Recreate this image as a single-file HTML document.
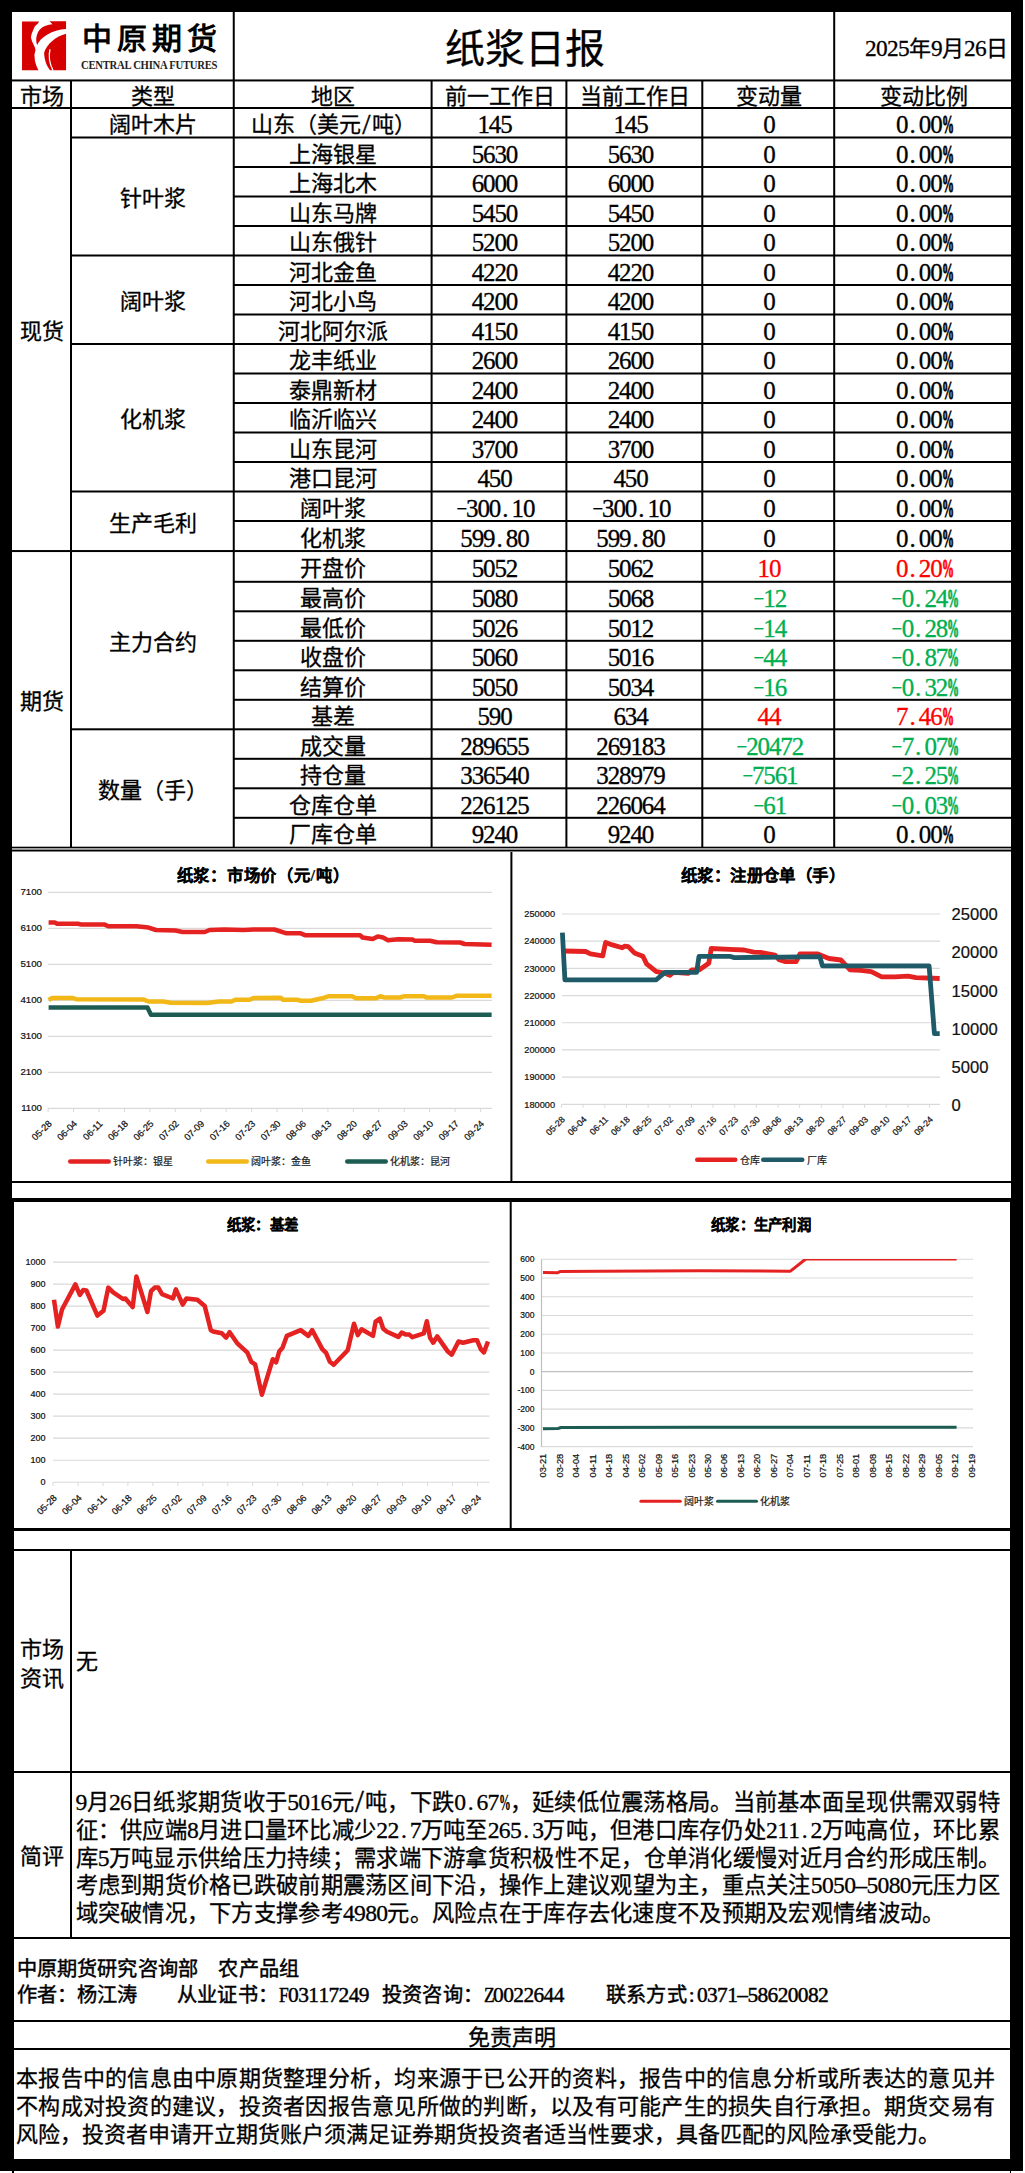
<!DOCTYPE html>
<html lang="zh-CN"><head><meta charset="utf-8"><title>纸浆日报</title>
<style>
*{margin:0;padding:0;box-sizing:border-box}
html,body{width:1025px;height:2173px;overflow:hidden;background:#fff}
body{position:relative;font-family:'Liberation Serif', serif}
body>div{position:absolute}
.t{white-space:nowrap;font-weight:500;-webkit-text-stroke:0.3px currentColor}
.num{position:absolute;height:30px;line-height:30px;font-size:25px;-webkit-text-stroke:0.3px currentColor;font-family:'Liberation Serif', serif;white-space:nowrap}
.num i{font-style:normal;display:inline-block;width:11.4px;text-align:center}
.num i.dt{text-align:left;padding-left:2px}
.num i.mn{transform:scaleX(0.75)}
.num i.pc{transform:scaleX(0.48);transform-origin:0 50%;font-weight:bold;text-align:left;-webkit-text-stroke:0.9px currentColor}
b.h{display:inline-block;width:0.5em;text-align:center;font-weight:inherit}
b.h.dt{text-align:left;padding-left:0.1em}
b.h.sl{transform:scale(1.35,1.3)}
b.h.lt{transform:scaleX(0.82)}
b.h.pc{transform:scaleX(0.5);transform-origin:0 50%;font-weight:bold;text-align:left}
.mx b.h{font-size:1.06em;width:0.4717em}
</style></head>
<body>
<div style="left:0px;top:0px;width:1023px;height:12px;background:#000"></div><div style="left:0px;top:0px;width:12px;height:2171px;background:#000"></div><div style="left:1011px;top:0px;width:12px;height:2171px;background:#000"></div><div style="left:0px;top:2159px;width:1023px;height:12px;background:#000"></div><svg style="position:absolute;left:15px;top:15px" width="60" height="63" viewBox="0 0 1025 1076">
<path fill="#d60000" d="M120,110 L410,110 L395,140 L340,190 L320,235 L285,320 L272,380 L290,450 L340,555 L350,600 L332,680 L340,780 L362,860 L400,945 L120,945 Z"/>
<path fill="#d60000" d="M590,105 L872,105 L872,240 C760,248 640,280 540,340 C460,390 410,440 378,512 C350,430 360,330 420,250 C480,190 560,170 640,160 Z"/>
<path fill="#d60000" d="M872,320 L872,945 L600,945 C540,870 498,760 498,640 C540,500 700,360 872,320 Z"/>
<path fill="none" stroke="#fff" stroke-width="22" d="M598,585 C575,680 585,820 650,950"/>
</svg><div class="t " style="left:82px;top:21px;width:145px;height:36px;line-height:36px;font-size:30px;color:#000;text-align:left;font-family:'Liberation Serif', serif;font-weight:bold;letter-spacing:5px;-webkit-text-stroke:0;">中原期货</div><div class="t " style="left:81px;top:57px;width:170px;height:16px;line-height:16px;font-size:12px;color:#000;text-align:left;font-family:'Liberation Serif', serif;font-weight:bold;transform:scaleX(0.89);transform-origin:0 0;letter-spacing:-0.3px;color:#222;-webkit-text-stroke:0;">CENTRAL CHINA FUTURES</div><div class="t " style="left:425px;top:24.5px;width:200px;height:50px;line-height:50px;font-size:40px;color:#000;text-align:center;font-family:'Liberation Serif', serif;font-weight:500;">纸浆日报</div><div class="t mx" style="left:822px;top:33.5px;width:186px;height:28px;line-height:28px;font-size:22px;color:#000;text-align:right;font-family:'Liberation Serif', serif;font-weight:500;"><b class="h">2</b><b class="h">0</b><b class="h">2</b><b class="h">5</b>年<b class="h">9</b>月<b class="h">2</b><b class="h">6</b>日</div><div class="t " style="left:12px;top:81.7px;width:59px;height:30px;line-height:30px;font-size:22px;color:#000;text-align:center;font-family:'Liberation Serif', serif;font-weight:500;">市场</div><div class="t " style="left:71px;top:81.7px;width:163px;height:30px;line-height:30px;font-size:22px;color:#000;text-align:center;font-family:'Liberation Serif', serif;font-weight:500;">类型</div><div class="t " style="left:234px;top:81.7px;width:198px;height:30px;line-height:30px;font-size:22px;color:#000;text-align:center;font-family:'Liberation Serif', serif;font-weight:500;">地区</div><div class="t " style="left:432px;top:81.7px;width:135px;height:30px;line-height:30px;font-size:22px;color:#000;text-align:center;font-family:'Liberation Serif', serif;font-weight:500;">前一工作日</div><div class="t " style="left:567px;top:81.7px;width:135px;height:30px;line-height:30px;font-size:22px;color:#000;text-align:center;font-family:'Liberation Serif', serif;font-weight:500;">当前工作日</div><div class="t " style="left:703px;top:81.7px;width:131px;height:30px;line-height:30px;font-size:22px;color:#000;text-align:center;font-family:'Liberation Serif', serif;font-weight:500;">变动量</div><div class="t " style="left:835px;top:81.7px;width:177px;height:30px;line-height:30px;font-size:22px;color:#000;text-align:center;font-family:'Liberation Serif', serif;font-weight:500;">变动比例</div><div class="t " style="left:234px;top:110.2px;width:198px;height:30px;line-height:30px;font-size:22px;color:#000;text-align:center;font-family:'Liberation Serif', serif;font-weight:500;">山东（美元<b class="h sl">/</b>吨）</div><div class="num" style="left:477.4px;top:110.2px;width:34.2px;color:#000"><i class="n">1</i><i class="n">4</i><i class="n">5</i></div><div class="num" style="left:613.4px;top:110.2px;width:34.2px;color:#000"><i class="n">1</i><i class="n">4</i><i class="n">5</i></div><div class="num" style="left:763.3px;top:110.2px;width:11.4px;color:#000"><i class="n">0</i></div><div class="num" style="left:896.0px;top:110.2px;width:57.0px;color:#000"><i class="n">0</i><i class="n dt">.</i><i class="n">0</i><i class="n">0</i><i class="n pc">%</i></div><div class="t " style="left:234px;top:139.8px;width:198px;height:30px;line-height:30px;font-size:22px;color:#000;text-align:center;font-family:'Liberation Serif', serif;font-weight:500;">上海银星</div><div class="num" style="left:471.7px;top:139.8px;width:45.6px;color:#000"><i class="n">5</i><i class="n">6</i><i class="n">3</i><i class="n">0</i></div><div class="num" style="left:607.7px;top:139.8px;width:45.6px;color:#000"><i class="n">5</i><i class="n">6</i><i class="n">3</i><i class="n">0</i></div><div class="num" style="left:763.3px;top:139.8px;width:11.4px;color:#000"><i class="n">0</i></div><div class="num" style="left:896.0px;top:139.8px;width:57.0px;color:#000"><i class="n">0</i><i class="n dt">.</i><i class="n">0</i><i class="n">0</i><i class="n pc">%</i></div><div class="t " style="left:234px;top:169.2px;width:198px;height:30px;line-height:30px;font-size:22px;color:#000;text-align:center;font-family:'Liberation Serif', serif;font-weight:500;">上海北木</div><div class="num" style="left:471.7px;top:169.2px;width:45.6px;color:#000"><i class="n">6</i><i class="n">0</i><i class="n">0</i><i class="n">0</i></div><div class="num" style="left:607.7px;top:169.2px;width:45.6px;color:#000"><i class="n">6</i><i class="n">0</i><i class="n">0</i><i class="n">0</i></div><div class="num" style="left:763.3px;top:169.2px;width:11.4px;color:#000"><i class="n">0</i></div><div class="num" style="left:896.0px;top:169.2px;width:57.0px;color:#000"><i class="n">0</i><i class="n dt">.</i><i class="n">0</i><i class="n">0</i><i class="n pc">%</i></div><div class="t " style="left:234px;top:198.8px;width:198px;height:30px;line-height:30px;font-size:22px;color:#000;text-align:center;font-family:'Liberation Serif', serif;font-weight:500;">山东马牌</div><div class="num" style="left:471.7px;top:198.8px;width:45.6px;color:#000"><i class="n">5</i><i class="n">4</i><i class="n">5</i><i class="n">0</i></div><div class="num" style="left:607.7px;top:198.8px;width:45.6px;color:#000"><i class="n">5</i><i class="n">4</i><i class="n">5</i><i class="n">0</i></div><div class="num" style="left:763.3px;top:198.8px;width:11.4px;color:#000"><i class="n">0</i></div><div class="num" style="left:896.0px;top:198.8px;width:57.0px;color:#000"><i class="n">0</i><i class="n dt">.</i><i class="n">0</i><i class="n">0</i><i class="n pc">%</i></div><div class="t " style="left:234px;top:228.2px;width:198px;height:30px;line-height:30px;font-size:22px;color:#000;text-align:center;font-family:'Liberation Serif', serif;font-weight:500;">山东俄针</div><div class="num" style="left:471.7px;top:228.2px;width:45.6px;color:#000"><i class="n">5</i><i class="n">2</i><i class="n">0</i><i class="n">0</i></div><div class="num" style="left:607.7px;top:228.2px;width:45.6px;color:#000"><i class="n">5</i><i class="n">2</i><i class="n">0</i><i class="n">0</i></div><div class="num" style="left:763.3px;top:228.2px;width:11.4px;color:#000"><i class="n">0</i></div><div class="num" style="left:896.0px;top:228.2px;width:57.0px;color:#000"><i class="n">0</i><i class="n dt">.</i><i class="n">0</i><i class="n">0</i><i class="n pc">%</i></div><div class="t " style="left:234px;top:257.8px;width:198px;height:30px;line-height:30px;font-size:22px;color:#000;text-align:center;font-family:'Liberation Serif', serif;font-weight:500;">河北金鱼</div><div class="num" style="left:471.7px;top:257.8px;width:45.6px;color:#000"><i class="n">4</i><i class="n">2</i><i class="n">2</i><i class="n">0</i></div><div class="num" style="left:607.7px;top:257.8px;width:45.6px;color:#000"><i class="n">4</i><i class="n">2</i><i class="n">2</i><i class="n">0</i></div><div class="num" style="left:763.3px;top:257.8px;width:11.4px;color:#000"><i class="n">0</i></div><div class="num" style="left:896.0px;top:257.8px;width:57.0px;color:#000"><i class="n">0</i><i class="n dt">.</i><i class="n">0</i><i class="n">0</i><i class="n pc">%</i></div><div class="t " style="left:234px;top:287.2px;width:198px;height:30px;line-height:30px;font-size:22px;color:#000;text-align:center;font-family:'Liberation Serif', serif;font-weight:500;">河北小鸟</div><div class="num" style="left:471.7px;top:287.2px;width:45.6px;color:#000"><i class="n">4</i><i class="n">2</i><i class="n">0</i><i class="n">0</i></div><div class="num" style="left:607.7px;top:287.2px;width:45.6px;color:#000"><i class="n">4</i><i class="n">2</i><i class="n">0</i><i class="n">0</i></div><div class="num" style="left:763.3px;top:287.2px;width:11.4px;color:#000"><i class="n">0</i></div><div class="num" style="left:896.0px;top:287.2px;width:57.0px;color:#000"><i class="n">0</i><i class="n dt">.</i><i class="n">0</i><i class="n">0</i><i class="n pc">%</i></div><div class="t " style="left:234px;top:316.8px;width:198px;height:30px;line-height:30px;font-size:22px;color:#000;text-align:center;font-family:'Liberation Serif', serif;font-weight:500;">河北阿尔派</div><div class="num" style="left:471.7px;top:316.8px;width:45.6px;color:#000"><i class="n">4</i><i class="n">1</i><i class="n">5</i><i class="n">0</i></div><div class="num" style="left:607.7px;top:316.8px;width:45.6px;color:#000"><i class="n">4</i><i class="n">1</i><i class="n">5</i><i class="n">0</i></div><div class="num" style="left:763.3px;top:316.8px;width:11.4px;color:#000"><i class="n">0</i></div><div class="num" style="left:896.0px;top:316.8px;width:57.0px;color:#000"><i class="n">0</i><i class="n dt">.</i><i class="n">0</i><i class="n">0</i><i class="n pc">%</i></div><div class="t " style="left:234px;top:346.2px;width:198px;height:30px;line-height:30px;font-size:22px;color:#000;text-align:center;font-family:'Liberation Serif', serif;font-weight:500;">龙丰纸业</div><div class="num" style="left:471.7px;top:346.2px;width:45.6px;color:#000"><i class="n">2</i><i class="n">6</i><i class="n">0</i><i class="n">0</i></div><div class="num" style="left:607.7px;top:346.2px;width:45.6px;color:#000"><i class="n">2</i><i class="n">6</i><i class="n">0</i><i class="n">0</i></div><div class="num" style="left:763.3px;top:346.2px;width:11.4px;color:#000"><i class="n">0</i></div><div class="num" style="left:896.0px;top:346.2px;width:57.0px;color:#000"><i class="n">0</i><i class="n dt">.</i><i class="n">0</i><i class="n">0</i><i class="n pc">%</i></div><div class="t " style="left:234px;top:375.8px;width:198px;height:30px;line-height:30px;font-size:22px;color:#000;text-align:center;font-family:'Liberation Serif', serif;font-weight:500;">泰鼎新材</div><div class="num" style="left:471.7px;top:375.8px;width:45.6px;color:#000"><i class="n">2</i><i class="n">4</i><i class="n">0</i><i class="n">0</i></div><div class="num" style="left:607.7px;top:375.8px;width:45.6px;color:#000"><i class="n">2</i><i class="n">4</i><i class="n">0</i><i class="n">0</i></div><div class="num" style="left:763.3px;top:375.8px;width:11.4px;color:#000"><i class="n">0</i></div><div class="num" style="left:896.0px;top:375.8px;width:57.0px;color:#000"><i class="n">0</i><i class="n dt">.</i><i class="n">0</i><i class="n">0</i><i class="n pc">%</i></div><div class="t " style="left:234px;top:405.2px;width:198px;height:30px;line-height:30px;font-size:22px;color:#000;text-align:center;font-family:'Liberation Serif', serif;font-weight:500;">临沂临兴</div><div class="num" style="left:471.7px;top:405.2px;width:45.6px;color:#000"><i class="n">2</i><i class="n">4</i><i class="n">0</i><i class="n">0</i></div><div class="num" style="left:607.7px;top:405.2px;width:45.6px;color:#000"><i class="n">2</i><i class="n">4</i><i class="n">0</i><i class="n">0</i></div><div class="num" style="left:763.3px;top:405.2px;width:11.4px;color:#000"><i class="n">0</i></div><div class="num" style="left:896.0px;top:405.2px;width:57.0px;color:#000"><i class="n">0</i><i class="n dt">.</i><i class="n">0</i><i class="n">0</i><i class="n pc">%</i></div><div class="t " style="left:234px;top:434.8px;width:198px;height:30px;line-height:30px;font-size:22px;color:#000;text-align:center;font-family:'Liberation Serif', serif;font-weight:500;">山东昆河</div><div class="num" style="left:471.7px;top:434.8px;width:45.6px;color:#000"><i class="n">3</i><i class="n">7</i><i class="n">0</i><i class="n">0</i></div><div class="num" style="left:607.7px;top:434.8px;width:45.6px;color:#000"><i class="n">3</i><i class="n">7</i><i class="n">0</i><i class="n">0</i></div><div class="num" style="left:763.3px;top:434.8px;width:11.4px;color:#000"><i class="n">0</i></div><div class="num" style="left:896.0px;top:434.8px;width:57.0px;color:#000"><i class="n">0</i><i class="n dt">.</i><i class="n">0</i><i class="n">0</i><i class="n pc">%</i></div><div class="t " style="left:234px;top:464.2px;width:198px;height:30px;line-height:30px;font-size:22px;color:#000;text-align:center;font-family:'Liberation Serif', serif;font-weight:500;">港口昆河</div><div class="num" style="left:477.4px;top:464.2px;width:34.2px;color:#000"><i class="n">4</i><i class="n">5</i><i class="n">0</i></div><div class="num" style="left:613.4px;top:464.2px;width:34.2px;color:#000"><i class="n">4</i><i class="n">5</i><i class="n">0</i></div><div class="num" style="left:763.3px;top:464.2px;width:11.4px;color:#000"><i class="n">0</i></div><div class="num" style="left:896.0px;top:464.2px;width:57.0px;color:#000"><i class="n">0</i><i class="n dt">.</i><i class="n">0</i><i class="n">0</i><i class="n pc">%</i></div><div class="t " style="left:234px;top:493.8px;width:198px;height:30px;line-height:30px;font-size:22px;color:#000;text-align:center;font-family:'Liberation Serif', serif;font-weight:500;">阔叶浆</div><div class="num" style="left:454.6px;top:493.8px;width:79.8px;color:#000"><i class="n mn">&#8722;</i><i class="n">3</i><i class="n">0</i><i class="n">0</i><i class="n dt">.</i><i class="n">1</i><i class="n">0</i></div><div class="num" style="left:590.6px;top:493.8px;width:79.8px;color:#000"><i class="n mn">&#8722;</i><i class="n">3</i><i class="n">0</i><i class="n">0</i><i class="n dt">.</i><i class="n">1</i><i class="n">0</i></div><div class="num" style="left:763.3px;top:493.8px;width:11.4px;color:#000"><i class="n">0</i></div><div class="num" style="left:896.0px;top:493.8px;width:57.0px;color:#000"><i class="n">0</i><i class="n dt">.</i><i class="n">0</i><i class="n">0</i><i class="n pc">%</i></div><div class="t " style="left:234px;top:523.5px;width:198px;height:30px;line-height:30px;font-size:22px;color:#000;text-align:center;font-family:'Liberation Serif', serif;font-weight:500;">化机浆</div><div class="num" style="left:460.3px;top:523.5px;width:68.4px;color:#000"><i class="n">5</i><i class="n">9</i><i class="n">9</i><i class="n dt">.</i><i class="n">8</i><i class="n">0</i></div><div class="num" style="left:596.3px;top:523.5px;width:68.4px;color:#000"><i class="n">5</i><i class="n">9</i><i class="n">9</i><i class="n dt">.</i><i class="n">8</i><i class="n">0</i></div><div class="num" style="left:763.3px;top:523.5px;width:11.4px;color:#000"><i class="n">0</i></div><div class="num" style="left:896.0px;top:523.5px;width:57.0px;color:#000"><i class="n">0</i><i class="n dt">.</i><i class="n">0</i><i class="n">0</i><i class="n pc">%</i></div><div class="t " style="left:234px;top:553.9px;width:198px;height:30px;line-height:30px;font-size:22px;color:#000;text-align:center;font-family:'Liberation Serif', serif;font-weight:500;">开盘价</div><div class="num" style="left:471.7px;top:553.9px;width:45.6px;color:#000"><i class="n">5</i><i class="n">0</i><i class="n">5</i><i class="n">2</i></div><div class="num" style="left:607.7px;top:553.9px;width:45.6px;color:#000"><i class="n">5</i><i class="n">0</i><i class="n">6</i><i class="n">2</i></div><div class="num" style="left:757.6px;top:553.9px;width:22.8px;color:#ff0000"><i class="n">1</i><i class="n">0</i></div><div class="num" style="left:896.0px;top:553.9px;width:57.0px;color:#ff0000"><i class="n">0</i><i class="n dt">.</i><i class="n">2</i><i class="n">0</i><i class="n pc">%</i></div><div class="t " style="left:234px;top:584.0px;width:198px;height:30px;line-height:30px;font-size:22px;color:#000;text-align:center;font-family:'Liberation Serif', serif;font-weight:500;">最高价</div><div class="num" style="left:471.7px;top:584.0px;width:45.6px;color:#000"><i class="n">5</i><i class="n">0</i><i class="n">8</i><i class="n">0</i></div><div class="num" style="left:607.7px;top:584.0px;width:45.6px;color:#000"><i class="n">5</i><i class="n">0</i><i class="n">6</i><i class="n">8</i></div><div class="num" style="left:751.9px;top:584.0px;width:34.2px;color:#00b050"><i class="n mn">&#8722;</i><i class="n">1</i><i class="n">2</i></div><div class="num" style="left:890.3px;top:584.0px;width:68.4px;color:#00b050"><i class="n mn">&#8722;</i><i class="n">0</i><i class="n dt">.</i><i class="n">2</i><i class="n">4</i><i class="n pc">%</i></div><div class="t " style="left:234px;top:613.5px;width:198px;height:30px;line-height:30px;font-size:22px;color:#000;text-align:center;font-family:'Liberation Serif', serif;font-weight:500;">最低价</div><div class="num" style="left:471.7px;top:613.5px;width:45.6px;color:#000"><i class="n">5</i><i class="n">0</i><i class="n">2</i><i class="n">6</i></div><div class="num" style="left:607.7px;top:613.5px;width:45.6px;color:#000"><i class="n">5</i><i class="n">0</i><i class="n">1</i><i class="n">2</i></div><div class="num" style="left:751.9px;top:613.5px;width:34.2px;color:#00b050"><i class="n mn">&#8722;</i><i class="n">1</i><i class="n">4</i></div><div class="num" style="left:890.3px;top:613.5px;width:68.4px;color:#00b050"><i class="n mn">&#8722;</i><i class="n">0</i><i class="n dt">.</i><i class="n">2</i><i class="n">8</i><i class="n pc">%</i></div><div class="t " style="left:234px;top:643.0px;width:198px;height:30px;line-height:30px;font-size:22px;color:#000;text-align:center;font-family:'Liberation Serif', serif;font-weight:500;">收盘价</div><div class="num" style="left:471.7px;top:643.0px;width:45.6px;color:#000"><i class="n">5</i><i class="n">0</i><i class="n">6</i><i class="n">0</i></div><div class="num" style="left:607.7px;top:643.0px;width:45.6px;color:#000"><i class="n">5</i><i class="n">0</i><i class="n">1</i><i class="n">6</i></div><div class="num" style="left:751.9px;top:643.0px;width:34.2px;color:#00b050"><i class="n mn">&#8722;</i><i class="n">4</i><i class="n">4</i></div><div class="num" style="left:890.3px;top:643.0px;width:68.4px;color:#00b050"><i class="n mn">&#8722;</i><i class="n">0</i><i class="n dt">.</i><i class="n">8</i><i class="n">7</i><i class="n pc">%</i></div><div class="t " style="left:234px;top:672.5px;width:198px;height:30px;line-height:30px;font-size:22px;color:#000;text-align:center;font-family:'Liberation Serif', serif;font-weight:500;">结算价</div><div class="num" style="left:471.7px;top:672.5px;width:45.6px;color:#000"><i class="n">5</i><i class="n">0</i><i class="n">5</i><i class="n">0</i></div><div class="num" style="left:607.7px;top:672.5px;width:45.6px;color:#000"><i class="n">5</i><i class="n">0</i><i class="n">3</i><i class="n">4</i></div><div class="num" style="left:751.9px;top:672.5px;width:34.2px;color:#00b050"><i class="n mn">&#8722;</i><i class="n">1</i><i class="n">6</i></div><div class="num" style="left:890.3px;top:672.5px;width:68.4px;color:#00b050"><i class="n mn">&#8722;</i><i class="n">0</i><i class="n dt">.</i><i class="n">3</i><i class="n">2</i><i class="n pc">%</i></div><div class="t " style="left:234px;top:702.0px;width:198px;height:30px;line-height:30px;font-size:22px;color:#000;text-align:center;font-family:'Liberation Serif', serif;font-weight:500;">基差</div><div class="num" style="left:477.4px;top:702.0px;width:34.2px;color:#000"><i class="n">5</i><i class="n">9</i><i class="n">0</i></div><div class="num" style="left:613.4px;top:702.0px;width:34.2px;color:#000"><i class="n">6</i><i class="n">3</i><i class="n">4</i></div><div class="num" style="left:757.6px;top:702.0px;width:22.8px;color:#ff0000"><i class="n">4</i><i class="n">4</i></div><div class="num" style="left:896.0px;top:702.0px;width:57.0px;color:#ff0000"><i class="n">7</i><i class="n dt">.</i><i class="n">4</i><i class="n">6</i><i class="n pc">%</i></div><div class="t " style="left:234px;top:731.5px;width:198px;height:30px;line-height:30px;font-size:22px;color:#000;text-align:center;font-family:'Liberation Serif', serif;font-weight:500;">成交量</div><div class="num" style="left:460.3px;top:731.5px;width:68.4px;color:#000"><i class="n">2</i><i class="n">8</i><i class="n">9</i><i class="n">6</i><i class="n">5</i><i class="n">5</i></div><div class="num" style="left:596.3px;top:731.5px;width:68.4px;color:#000"><i class="n">2</i><i class="n">6</i><i class="n">9</i><i class="n">1</i><i class="n">8</i><i class="n">3</i></div><div class="num" style="left:734.8px;top:731.5px;width:68.4px;color:#00b050"><i class="n mn">&#8722;</i><i class="n">2</i><i class="n">0</i><i class="n">4</i><i class="n">7</i><i class="n">2</i></div><div class="num" style="left:890.3px;top:731.5px;width:68.4px;color:#00b050"><i class="n mn">&#8722;</i><i class="n">7</i><i class="n dt">.</i><i class="n">0</i><i class="n">7</i><i class="n pc">%</i></div><div class="t " style="left:234px;top:761.0px;width:198px;height:30px;line-height:30px;font-size:22px;color:#000;text-align:center;font-family:'Liberation Serif', serif;font-weight:500;">持仓量</div><div class="num" style="left:460.3px;top:761.0px;width:68.4px;color:#000"><i class="n">3</i><i class="n">3</i><i class="n">6</i><i class="n">5</i><i class="n">4</i><i class="n">0</i></div><div class="num" style="left:596.3px;top:761.0px;width:68.4px;color:#000"><i class="n">3</i><i class="n">2</i><i class="n">8</i><i class="n">9</i><i class="n">7</i><i class="n">9</i></div><div class="num" style="left:740.5px;top:761.0px;width:57.0px;color:#00b050"><i class="n mn">&#8722;</i><i class="n">7</i><i class="n">5</i><i class="n">6</i><i class="n">1</i></div><div class="num" style="left:890.3px;top:761.0px;width:68.4px;color:#00b050"><i class="n mn">&#8722;</i><i class="n">2</i><i class="n dt">.</i><i class="n">2</i><i class="n">5</i><i class="n pc">%</i></div><div class="t " style="left:234px;top:790.5px;width:198px;height:30px;line-height:30px;font-size:22px;color:#000;text-align:center;font-family:'Liberation Serif', serif;font-weight:500;">仓库仓单</div><div class="num" style="left:460.3px;top:790.5px;width:68.4px;color:#000"><i class="n">2</i><i class="n">2</i><i class="n">6</i><i class="n">1</i><i class="n">2</i><i class="n">5</i></div><div class="num" style="left:596.3px;top:790.5px;width:68.4px;color:#000"><i class="n">2</i><i class="n">2</i><i class="n">6</i><i class="n">0</i><i class="n">6</i><i class="n">4</i></div><div class="num" style="left:751.9px;top:790.5px;width:34.2px;color:#00b050"><i class="n mn">&#8722;</i><i class="n">6</i><i class="n">1</i></div><div class="num" style="left:890.3px;top:790.5px;width:68.4px;color:#00b050"><i class="n mn">&#8722;</i><i class="n">0</i><i class="n dt">.</i><i class="n">0</i><i class="n">3</i><i class="n pc">%</i></div><div class="t " style="left:234px;top:820.4px;width:198px;height:30px;line-height:30px;font-size:22px;color:#000;text-align:center;font-family:'Liberation Serif', serif;font-weight:500;">厂库仓单</div><div class="num" style="left:471.7px;top:820.4px;width:45.6px;color:#000"><i class="n">9</i><i class="n">2</i><i class="n">4</i><i class="n">0</i></div><div class="num" style="left:607.7px;top:820.4px;width:45.6px;color:#000"><i class="n">9</i><i class="n">2</i><i class="n">4</i><i class="n">0</i></div><div class="num" style="left:763.3px;top:820.4px;width:11.4px;color:#000"><i class="n">0</i></div><div class="num" style="left:896.0px;top:820.4px;width:57.0px;color:#000"><i class="n">0</i><i class="n dt">.</i><i class="n">0</i><i class="n">0</i><i class="n pc">%</i></div><div class="t " style="left:71px;top:110.2px;width:163px;height:30px;line-height:30px;font-size:22px;color:#000;text-align:center;font-family:'Liberation Serif', serif;font-weight:500;">阔叶木片</div><div class="t " style="left:71px;top:184.0px;width:163px;height:30px;line-height:30px;font-size:22px;color:#000;text-align:center;font-family:'Liberation Serif', serif;font-weight:500;">针叶浆</div><div class="t " style="left:71px;top:287.2px;width:163px;height:30px;line-height:30px;font-size:22px;color:#000;text-align:center;font-family:'Liberation Serif', serif;font-weight:500;">阔叶浆</div><div class="t " style="left:71px;top:405.2px;width:163px;height:30px;line-height:30px;font-size:22px;color:#000;text-align:center;font-family:'Liberation Serif', serif;font-weight:500;">化机浆</div><div class="t " style="left:71px;top:508.8px;width:163px;height:30px;line-height:30px;font-size:22px;color:#000;text-align:center;font-family:'Liberation Serif', serif;font-weight:500;">生产毛利</div><div class="t " style="left:71px;top:627.7px;width:163px;height:30px;line-height:30px;font-size:22px;color:#000;text-align:center;font-family:'Liberation Serif', serif;font-weight:500;">主力合约</div><div class="t " style="left:71px;top:776.1px;width:163px;height:30px;line-height:30px;font-size:22px;color:#000;text-align:center;font-family:'Liberation Serif', serif;font-weight:500;">数量（手）</div><div class="t " style="left:12px;top:317.0px;width:59px;height:30px;line-height:30px;font-size:22px;color:#000;text-align:center;font-family:'Liberation Serif', serif;font-weight:500;">现货</div><div class="t " style="left:12px;top:687.0px;width:59px;height:30px;line-height:30px;font-size:22px;color:#000;text-align:center;font-family:'Liberation Serif', serif;font-weight:500;">期货</div><div style="left:12px;top:1181px;width:999px;height:2px;background:#000"></div><div style="left:12px;top:1198px;width:999px;height:4px;background:#000"></div><div style="left:12px;top:1202px;width:2px;height:1326px;background:#000"></div><div style="left:1010px;top:1202px;width:1px;height:1326px;background:#000"></div><div style="left:12px;top:1528px;width:999px;height:3px;background:#000"></div><div style="left:12px;top:1549px;width:999px;height:2px;background:#000"></div><div style="left:70px;top:1551px;width:2px;height:386px;background:#000"></div><div style="left:12px;top:1771px;width:999px;height:2px;background:#000"></div><div style="left:12px;top:1937px;width:999px;height:2px;background:#000"></div><div style="left:12px;top:2020px;width:999px;height:2px;background:#000"></div><div style="left:12px;top:2048px;width:999px;height:2px;background:#000"></div><div class="t " style="left:14px;top:1634.5px;width:56px;height:60px;line-height:60px;font-size:22px;color:#000;text-align:center;font-family:'Liberation Serif', serif;font-weight:500;line-height:29.3px;">市场<br>资讯</div><div class="t " style="left:76px;top:1648px;width:40px;height:28px;line-height:28px;font-size:22px;color:#000;text-align:left;font-family:'Liberation Serif', serif;font-weight:500;">无</div><div class="t " style="left:14px;top:1842px;width:56px;height:30px;line-height:30px;font-size:22px;color:#000;text-align:center;font-family:'Liberation Serif', serif;font-weight:500;">简评</div><div class="t mx" style="left:75.5px;top:1787.2px;width:940px;height:30px;line-height:30px;font-size:22.28px;color:#000;text-align:left;font-family:'Liberation Serif', serif;font-weight:500;letter-spacing:0.28px;"><b class="h">9</b>月<b class="h">2</b><b class="h">6</b>日纸浆期货收于<b class="h">5</b><b class="h">0</b><b class="h">1</b><b class="h">6</b>元<b class="h sl">/</b>吨，下跌<b class="h">0</b><b class="h dt">.</b><b class="h">6</b><b class="h">7</b><b class="h pc">%</b>，延续低位震荡格局。当前基本面呈现供需双弱特</div><div class="t mx" style="left:75.5px;top:1814.9px;width:940px;height:30px;line-height:30px;font-size:22.28px;color:#000;text-align:left;font-family:'Liberation Serif', serif;font-weight:500;letter-spacing:0.28px;">征：供应端<b class="h">8</b>月进口量环比减少<b class="h">2</b><b class="h">2</b><b class="h dt">.</b><b class="h">7</b>万吨至<b class="h">2</b><b class="h">6</b><b class="h">5</b><b class="h dt">.</b><b class="h">3</b>万吨，但港口库存仍处<b class="h">2</b><b class="h">1</b><b class="h">1</b><b class="h dt">.</b><b class="h">2</b>万吨高位，环比累</div><div class="t mx" style="left:75.5px;top:1842.6px;width:940px;height:30px;line-height:30px;font-size:22.28px;color:#000;text-align:left;font-family:'Liberation Serif', serif;font-weight:500;letter-spacing:0.28px;">库<b class="h">5</b>万吨显示供给压力持续；需求端下游拿货积极性不足，仓单消化缓慢对近月合约形成压制。</div><div class="t mx" style="left:75.5px;top:1870.3px;width:940px;height:30px;line-height:30px;font-size:22.28px;color:#000;text-align:left;font-family:'Liberation Serif', serif;font-weight:500;letter-spacing:0.28px;">考虑到期货价格已跌破前期震荡区间下沿，操作上建议观望为主，重点关注<b class="h">5</b><b class="h">0</b><b class="h">5</b><b class="h">0</b><b class="h">&#8211;</b><b class="h">5</b><b class="h">0</b><b class="h">8</b><b class="h">0</b>元压力区</div><div class="t mx" style="left:75.5px;top:1898.0px;width:940px;height:30px;line-height:30px;font-size:22.28px;color:#000;text-align:left;font-family:'Liberation Serif', serif;font-weight:500;letter-spacing:0.28px;">域突破情况，下方支撑参考<b class="h">4</b><b class="h">9</b><b class="h">8</b><b class="h">0</b>元。风险点在于库存去化速度不及预期及宏观情绪波动。</div><div class="t " style="left:16.5px;top:1955px;width:400px;height:28px;line-height:28px;font-size:20.2px;color:#000;text-align:left;font-family:'Liberation Serif', serif;font-weight:500;letter-spacing:0.2px;-webkit-text-stroke:0.45px #000;">中原期货研究咨询部　农产品组</div><div class="t " style="left:16.5px;top:1981px;width:150px;height:28px;line-height:28px;font-size:20.2px;color:#000;text-align:left;font-family:'Liberation Serif', serif;font-weight:500;letter-spacing:0.2px;-webkit-text-stroke:0.45px #000;">作者：杨江涛</div><div class="t mx" style="left:177px;top:1981px;width:220px;height:28px;line-height:28px;font-size:20.2px;color:#000;text-align:left;font-family:'Liberation Serif', serif;font-weight:500;letter-spacing:0.2px;-webkit-text-stroke:0.45px #000;">从业证书：<b class="h lt">F</b><b class="h">0</b><b class="h">3</b><b class="h">1</b><b class="h">1</b><b class="h">7</b><b class="h">2</b><b class="h">4</b><b class="h">9</b></div><div class="t mx" style="left:382px;top:1981px;width:220px;height:28px;line-height:28px;font-size:20.2px;color:#000;text-align:left;font-family:'Liberation Serif', serif;font-weight:500;letter-spacing:0.2px;-webkit-text-stroke:0.45px #000;">投资咨询：<b class="h lt">Z</b><b class="h">0</b><b class="h">0</b><b class="h">2</b><b class="h">2</b><b class="h">6</b><b class="h">4</b><b class="h">4</b></div><div class="t mx" style="left:606px;top:1981px;width:260px;height:28px;line-height:28px;font-size:20.2px;color:#000;text-align:left;font-family:'Liberation Serif', serif;font-weight:500;letter-spacing:0.2px;-webkit-text-stroke:0.45px #000;">联系方式<b class="h">:</b><b class="h">0</b><b class="h">3</b><b class="h">7</b><b class="h">1</b><b class="h">&#8211;</b><b class="h">5</b><b class="h">8</b><b class="h">6</b><b class="h">2</b><b class="h">0</b><b class="h">0</b><b class="h">8</b><b class="h">2</b></div><div class="t " style="left:412px;top:2024.5px;width:200px;height:26px;line-height:26px;font-size:22px;color:#000;text-align:center;font-family:'Liberation Serif', serif;font-weight:500;">免责声明</div><div class="t " style="left:16px;top:2063.6px;width:979px;height:30px;line-height:30px;font-size:22px;color:#000;text-align:left;font-family:'Liberation Serif', serif;font-weight:500;text-align-last:justify;">本报告中的信息由中原期货整理分析，均来源于已公开的资料，报告中的信息分析或所表达的意见并</div><div class="t " style="left:16px;top:2091.6px;width:979px;height:30px;line-height:30px;font-size:22px;color:#000;text-align:left;font-family:'Liberation Serif', serif;font-weight:500;text-align-last:justify;">不构成对投资的建议，投资者因报告意见所做的判断，以及有可能产生的损失自行承担。期货交易有</div><div class="t " style="left:16px;top:2119.6px;width:960px;height:30px;line-height:30px;font-size:22px;color:#000;text-align:left;font-family:'Liberation Serif', serif;font-weight:500;">风险，投资者申请开立期货账户须满足证券期货投资者适当性要求，具备匹配的风险承受能力。</div>
<svg style="position:absolute;left:0;top:0" width="1025" height="2173" ><rect x="12.00" y="79.45" width="999.00" height="2.00" fill="#000"/><rect x="12.00" y="107.00" width="999.00" height="2.00" fill="#000"/><rect x="233.75" y="136.50" width="777.25" height="2.00" fill="#000"/><rect x="233.75" y="166.00" width="777.25" height="2.00" fill="#000"/><rect x="233.75" y="195.50" width="777.25" height="2.00" fill="#000"/><rect x="233.75" y="225.00" width="777.25" height="2.00" fill="#000"/><rect x="233.75" y="254.50" width="777.25" height="2.00" fill="#000"/><rect x="233.75" y="284.00" width="777.25" height="2.00" fill="#000"/><rect x="233.75" y="313.50" width="777.25" height="2.00" fill="#000"/><rect x="233.75" y="343.00" width="777.25" height="2.00" fill="#000"/><rect x="233.75" y="372.50" width="777.25" height="2.00" fill="#000"/><rect x="233.75" y="402.00" width="777.25" height="2.00" fill="#000"/><rect x="233.75" y="431.50" width="777.25" height="2.00" fill="#000"/><rect x="233.75" y="461.00" width="777.25" height="2.00" fill="#000"/><rect x="233.75" y="490.50" width="777.25" height="2.00" fill="#000"/><rect x="233.75" y="520.00" width="777.25" height="2.00" fill="#000"/><rect x="233.75" y="550.05" width="777.25" height="2.00" fill="#000"/><rect x="233.75" y="580.80" width="777.25" height="2.00" fill="#000"/><rect x="233.75" y="610.30" width="777.25" height="2.00" fill="#000"/><rect x="233.75" y="639.80" width="777.25" height="2.00" fill="#000"/><rect x="233.75" y="669.30" width="777.25" height="2.00" fill="#000"/><rect x="233.75" y="698.80" width="777.25" height="2.00" fill="#000"/><rect x="233.75" y="728.30" width="777.25" height="2.00" fill="#000"/><rect x="233.75" y="757.80" width="777.25" height="2.00" fill="#000"/><rect x="233.75" y="787.30" width="777.25" height="2.00" fill="#000"/><rect x="233.75" y="816.80" width="777.25" height="2.00" fill="#000"/><rect x="71.00" y="136.50" width="162.75" height="2.00" fill="#000"/><rect x="71.00" y="254.50" width="162.75" height="2.00" fill="#000"/><rect x="71.00" y="343.00" width="162.75" height="2.00" fill="#000"/><rect x="71.00" y="490.50" width="162.75" height="2.00" fill="#000"/><rect x="71.00" y="550.05" width="162.75" height="2.00" fill="#000"/><rect x="71.00" y="728.30" width="162.75" height="2.00" fill="#000"/><rect x="12.00" y="550.05" width="59.00" height="2.00" fill="#000"/><rect x="12.00" y="846.70" width="999.00" height="1.50" fill="#000"/><rect x="12.00" y="848.20" width="999.00" height="1.70" fill="#9a9a9a"/><rect x="12.00" y="849.90" width="999.00" height="1.60" fill="#000"/><rect x="232.75" y="12.00" width="2.00" height="835.00" fill="#000"/><rect x="833.20" y="12.00" width="2.00" height="835.00" fill="#000"/><rect x="70.00" y="80.45" width="2.00" height="766.55" fill="#000"/><rect x="430.60" y="80.45" width="2.00" height="766.55" fill="#000"/><rect x="565.40" y="80.45" width="2.00" height="766.55" fill="#000"/><rect x="701.30" y="80.45" width="2.00" height="766.55" fill="#000"/><rect x="510.40" y="852.00" width="2.00" height="329.00" fill="#000"/><rect x="509.70" y="1202.00" width="2.00" height="326.00" fill="#000"/><text x="263" y="881" font-size="16.3" text-anchor="middle" fill="#000" font-family="'Liberation Serif', serif" font-weight="bold" letter-spacing="0.75" stroke="#000" stroke-width="0.22">纸浆：市场价（元/吨）</text><line x1="48" y1="892.4" x2="492" y2="892.4" stroke="#d9d9d9" stroke-width="1.2" stroke-linecap="butt"/><text x="42" y="895.1" font-size="9.7" text-anchor="end" fill="#111" font-family="'Liberation Sans', sans-serif" font-weight="normal"  stroke="#111" stroke-width="0.22">7100</text><line x1="48" y1="928.4" x2="492" y2="928.4" stroke="#d9d9d9" stroke-width="1.2" stroke-linecap="butt"/><text x="42" y="931.1" font-size="9.7" text-anchor="end" fill="#111" font-family="'Liberation Sans', sans-serif" font-weight="normal"  stroke="#111" stroke-width="0.22">6100</text><line x1="48" y1="964.4" x2="492" y2="964.4" stroke="#d9d9d9" stroke-width="1.2" stroke-linecap="butt"/><text x="42" y="967.1" font-size="9.7" text-anchor="end" fill="#111" font-family="'Liberation Sans', sans-serif" font-weight="normal"  stroke="#111" stroke-width="0.22">5100</text><line x1="48" y1="1000.4" x2="492" y2="1000.4" stroke="#d9d9d9" stroke-width="1.2" stroke-linecap="butt"/><text x="42" y="1003.1" font-size="9.7" text-anchor="end" fill="#111" font-family="'Liberation Sans', sans-serif" font-weight="normal"  stroke="#111" stroke-width="0.22">4100</text><line x1="48" y1="1036.4" x2="492" y2="1036.4" stroke="#d9d9d9" stroke-width="1.2" stroke-linecap="butt"/><text x="42" y="1039.1000000000001" font-size="9.7" text-anchor="end" fill="#111" font-family="'Liberation Sans', sans-serif" font-weight="normal"  stroke="#111" stroke-width="0.22">3100</text><line x1="48" y1="1072.4" x2="492" y2="1072.4" stroke="#d9d9d9" stroke-width="1.2" stroke-linecap="butt"/><text x="42" y="1075.1000000000001" font-size="9.7" text-anchor="end" fill="#111" font-family="'Liberation Sans', sans-serif" font-weight="normal"  stroke="#111" stroke-width="0.22">2100</text><line x1="48" y1="1108.4" x2="492" y2="1108.4" stroke="#d9d9d9" stroke-width="1.2" stroke-linecap="butt"/><text x="42" y="1111.1000000000001" font-size="9.7" text-anchor="end" fill="#111" font-family="'Liberation Sans', sans-serif" font-weight="normal"  stroke="#111" stroke-width="0.22">1100</text><line x1="48.1" y1="1108.4" x2="48.1" y2="1112" stroke="#d9d9d9" stroke-width="1" stroke-linecap="butt"/><text x="52.300000000000004" y="1124.3" font-size="9.3" text-anchor="end" fill="#111" font-family="'Liberation Sans', sans-serif" font-weight="normal" transform="rotate(-45 52.300000000000004 1124.3)"  stroke="#111" stroke-width="0.22">05-28</text><line x1="73.54" y1="1108.4" x2="73.54" y2="1112" stroke="#d9d9d9" stroke-width="1" stroke-linecap="butt"/><text x="77.74000000000001" y="1124.3" font-size="9.3" text-anchor="end" fill="#111" font-family="'Liberation Sans', sans-serif" font-weight="normal" transform="rotate(-45 77.74000000000001 1124.3)"  stroke="#111" stroke-width="0.22">06-04</text><line x1="98.98" y1="1108.4" x2="98.98" y2="1112" stroke="#d9d9d9" stroke-width="1" stroke-linecap="butt"/><text x="103.18" y="1124.3" font-size="9.3" text-anchor="end" fill="#111" font-family="'Liberation Sans', sans-serif" font-weight="normal" transform="rotate(-45 103.18 1124.3)"  stroke="#111" stroke-width="0.22">06-11</text><line x1="124.42000000000002" y1="1108.4" x2="124.42000000000002" y2="1112" stroke="#d9d9d9" stroke-width="1" stroke-linecap="butt"/><text x="128.62" y="1124.3" font-size="9.3" text-anchor="end" fill="#111" font-family="'Liberation Sans', sans-serif" font-weight="normal" transform="rotate(-45 128.62 1124.3)"  stroke="#111" stroke-width="0.22">06-18</text><line x1="149.86" y1="1108.4" x2="149.86" y2="1112" stroke="#d9d9d9" stroke-width="1" stroke-linecap="butt"/><text x="154.06" y="1124.3" font-size="9.3" text-anchor="end" fill="#111" font-family="'Liberation Sans', sans-serif" font-weight="normal" transform="rotate(-45 154.06 1124.3)"  stroke="#111" stroke-width="0.22">06-25</text><line x1="175.3" y1="1108.4" x2="175.3" y2="1112" stroke="#d9d9d9" stroke-width="1" stroke-linecap="butt"/><text x="179.5" y="1124.3" font-size="9.3" text-anchor="end" fill="#111" font-family="'Liberation Sans', sans-serif" font-weight="normal" transform="rotate(-45 179.5 1124.3)"  stroke="#111" stroke-width="0.22">07-02</text><line x1="200.74" y1="1108.4" x2="200.74" y2="1112" stroke="#d9d9d9" stroke-width="1" stroke-linecap="butt"/><text x="204.94" y="1124.3" font-size="9.3" text-anchor="end" fill="#111" font-family="'Liberation Sans', sans-serif" font-weight="normal" transform="rotate(-45 204.94 1124.3)"  stroke="#111" stroke-width="0.22">07-09</text><line x1="226.18" y1="1108.4" x2="226.18" y2="1112" stroke="#d9d9d9" stroke-width="1" stroke-linecap="butt"/><text x="230.38" y="1124.3" font-size="9.3" text-anchor="end" fill="#111" font-family="'Liberation Sans', sans-serif" font-weight="normal" transform="rotate(-45 230.38 1124.3)"  stroke="#111" stroke-width="0.22">07-16</text><line x1="251.62" y1="1108.4" x2="251.62" y2="1112" stroke="#d9d9d9" stroke-width="1" stroke-linecap="butt"/><text x="255.82" y="1124.3" font-size="9.3" text-anchor="end" fill="#111" font-family="'Liberation Sans', sans-serif" font-weight="normal" transform="rotate(-45 255.82 1124.3)"  stroke="#111" stroke-width="0.22">07-23</text><line x1="277.06" y1="1108.4" x2="277.06" y2="1112" stroke="#d9d9d9" stroke-width="1" stroke-linecap="butt"/><text x="281.26" y="1124.3" font-size="9.3" text-anchor="end" fill="#111" font-family="'Liberation Sans', sans-serif" font-weight="normal" transform="rotate(-45 281.26 1124.3)"  stroke="#111" stroke-width="0.22">07-30</text><line x1="302.5" y1="1108.4" x2="302.5" y2="1112" stroke="#d9d9d9" stroke-width="1" stroke-linecap="butt"/><text x="306.7" y="1124.3" font-size="9.3" text-anchor="end" fill="#111" font-family="'Liberation Sans', sans-serif" font-weight="normal" transform="rotate(-45 306.7 1124.3)"  stroke="#111" stroke-width="0.22">08-06</text><line x1="327.94000000000005" y1="1108.4" x2="327.94000000000005" y2="1112" stroke="#d9d9d9" stroke-width="1" stroke-linecap="butt"/><text x="332.14000000000004" y="1124.3" font-size="9.3" text-anchor="end" fill="#111" font-family="'Liberation Sans', sans-serif" font-weight="normal" transform="rotate(-45 332.14000000000004 1124.3)"  stroke="#111" stroke-width="0.22">08-13</text><line x1="353.38000000000005" y1="1108.4" x2="353.38000000000005" y2="1112" stroke="#d9d9d9" stroke-width="1" stroke-linecap="butt"/><text x="357.58000000000004" y="1124.3" font-size="9.3" text-anchor="end" fill="#111" font-family="'Liberation Sans', sans-serif" font-weight="normal" transform="rotate(-45 357.58000000000004 1124.3)"  stroke="#111" stroke-width="0.22">08-20</text><line x1="378.82000000000005" y1="1108.4" x2="378.82000000000005" y2="1112" stroke="#d9d9d9" stroke-width="1" stroke-linecap="butt"/><text x="383.02000000000004" y="1124.3" font-size="9.3" text-anchor="end" fill="#111" font-family="'Liberation Sans', sans-serif" font-weight="normal" transform="rotate(-45 383.02000000000004 1124.3)"  stroke="#111" stroke-width="0.22">08-27</text><line x1="404.26000000000005" y1="1108.4" x2="404.26000000000005" y2="1112" stroke="#d9d9d9" stroke-width="1" stroke-linecap="butt"/><text x="408.46000000000004" y="1124.3" font-size="9.3" text-anchor="end" fill="#111" font-family="'Liberation Sans', sans-serif" font-weight="normal" transform="rotate(-45 408.46000000000004 1124.3)"  stroke="#111" stroke-width="0.22">09-03</text><line x1="429.70000000000005" y1="1108.4" x2="429.70000000000005" y2="1112" stroke="#d9d9d9" stroke-width="1" stroke-linecap="butt"/><text x="433.90000000000003" y="1124.3" font-size="9.3" text-anchor="end" fill="#111" font-family="'Liberation Sans', sans-serif" font-weight="normal" transform="rotate(-45 433.90000000000003 1124.3)"  stroke="#111" stroke-width="0.22">09-10</text><line x1="455.14000000000004" y1="1108.4" x2="455.14000000000004" y2="1112" stroke="#d9d9d9" stroke-width="1" stroke-linecap="butt"/><text x="459.34000000000003" y="1124.3" font-size="9.3" text-anchor="end" fill="#111" font-family="'Liberation Sans', sans-serif" font-weight="normal" transform="rotate(-45 459.34000000000003 1124.3)"  stroke="#111" stroke-width="0.22">09-17</text><line x1="480.58000000000004" y1="1108.4" x2="480.58000000000004" y2="1112" stroke="#d9d9d9" stroke-width="1" stroke-linecap="butt"/><text x="484.78000000000003" y="1124.3" font-size="9.3" text-anchor="end" fill="#111" font-family="'Liberation Sans', sans-serif" font-weight="normal" transform="rotate(-45 484.78000000000003 1124.3)"  stroke="#111" stroke-width="0.22">09-24</text><polyline points="48.6,922.4 54.7,922.4 57.1,923.7 77.9,923.7 81.5,924.6 104.7,924.6 108.3,926.3 136.4,926.3 143.7,927.1 148.6,927.6 155.9,930.0 175.4,930.5 182.7,932.0 204.7,932.0 209.6,930.0 224.2,929.5 243.7,930.0 253.5,929.5 274.3,929.5 285.8,933.2 300.0,933.2 305.0,935.2 360.0,935.2 362.5,937.5 372.7,939.0 377.8,936.4 383.0,937.5 388.0,940.3 398.3,939.2 412.0,939.4 414.9,940.7 430.0,940.7 436.6,942.3 460.0,942.5 464.7,944.0 491.6,944.8" fill="none" stroke="#e52222" stroke-width="4.5" stroke-linejoin="round" stroke-linecap="butt"/><polyline points="48.6,1000.0 52.2,998.0 73.0,998.0 76.6,999.3 143.7,999.6 148.6,1001.5 163.2,1001.5 170.5,1002.8 207.0,1003.0 219.3,1001.5 231.5,1001.5 235.2,999.8 249.8,999.8 253.5,998.0 280.7,997.8 283.0,999.8 297.0,999.8 301.0,1000.8 311.0,1000.8 322.0,998.3 329.0,996.2 352.0,996.2 356.0,998.3 376.0,998.3 380.4,996.2 384.0,997.5 400.0,997.5 404.7,996.2 424.0,996.2 426.4,997.5 452.0,997.5 457.0,995.7 491.6,995.7" fill="none" stroke="#f2b818" stroke-width="4.5" stroke-linejoin="round" stroke-linecap="butt"/><polyline points="48.6,1007.5 147.4,1007.5 151.0,1014.8 491.6,1014.8" fill="none" stroke="#1d5c52" stroke-width="4.5" stroke-linejoin="round" stroke-linecap="butt"/><line x1="70.25" y1="1161.5" x2="108.75" y2="1161.5" stroke="#e52222" stroke-width="4.5" stroke-linecap="round"/><text x="113" y="1165" font-size="10" text-anchor="start" fill="#222" font-family="'Liberation Sans', sans-serif" font-weight="normal"  stroke="#222" stroke-width="0.22">针叶浆：银星</text><line x1="208.25" y1="1161.5" x2="246.75" y2="1161.5" stroke="#f2b818" stroke-width="4.5" stroke-linecap="round"/><text x="251" y="1165" font-size="10" text-anchor="start" fill="#222" font-family="'Liberation Sans', sans-serif" font-weight="normal"  stroke="#222" stroke-width="0.22">阔叶浆：金鱼</text><line x1="347.25" y1="1161.5" x2="385.75" y2="1161.5" stroke="#1d5c52" stroke-width="4.5" stroke-linecap="round"/><text x="390" y="1165" font-size="10" text-anchor="start" fill="#222" font-family="'Liberation Sans', sans-serif" font-weight="normal"  stroke="#222" stroke-width="0.22">化机浆：昆河</text><text x="763" y="881" font-size="16.4" text-anchor="middle" fill="#000" font-family="'Liberation Serif', serif" font-weight="bold" letter-spacing="0.4" stroke="#000" stroke-width="0.22">纸浆：注册仓单（手）</text><line x1="562" y1="914.0" x2="940" y2="914.0" stroke="#d9d9d9" stroke-width="1.2" stroke-linecap="butt"/><text x="555" y="917.2" font-size="9.2" text-anchor="end" fill="#111" font-family="'Liberation Sans', sans-serif" font-weight="normal"  stroke="#111" stroke-width="0.22">250000</text><line x1="562" y1="941.19" x2="940" y2="941.19" stroke="#d9d9d9" stroke-width="1.2" stroke-linecap="butt"/><text x="555" y="944.3900000000001" font-size="9.2" text-anchor="end" fill="#111" font-family="'Liberation Sans', sans-serif" font-weight="normal"  stroke="#111" stroke-width="0.22">240000</text><line x1="562" y1="968.38" x2="940" y2="968.38" stroke="#d9d9d9" stroke-width="1.2" stroke-linecap="butt"/><text x="555" y="971.58" font-size="9.2" text-anchor="end" fill="#111" font-family="'Liberation Sans', sans-serif" font-weight="normal"  stroke="#111" stroke-width="0.22">230000</text><line x1="562" y1="995.57" x2="940" y2="995.57" stroke="#d9d9d9" stroke-width="1.2" stroke-linecap="butt"/><text x="555" y="998.7700000000001" font-size="9.2" text-anchor="end" fill="#111" font-family="'Liberation Sans', sans-serif" font-weight="normal"  stroke="#111" stroke-width="0.22">220000</text><line x1="562" y1="1022.76" x2="940" y2="1022.76" stroke="#d9d9d9" stroke-width="1.2" stroke-linecap="butt"/><text x="555" y="1025.96" font-size="9.2" text-anchor="end" fill="#111" font-family="'Liberation Sans', sans-serif" font-weight="normal"  stroke="#111" stroke-width="0.22">210000</text><line x1="562" y1="1049.95" x2="940" y2="1049.95" stroke="#d9d9d9" stroke-width="1.2" stroke-linecap="butt"/><text x="555" y="1053.15" font-size="9.2" text-anchor="end" fill="#111" font-family="'Liberation Sans', sans-serif" font-weight="normal"  stroke="#111" stroke-width="0.22">200000</text><line x1="562" y1="1077.14" x2="940" y2="1077.14" stroke="#d9d9d9" stroke-width="1.2" stroke-linecap="butt"/><text x="555" y="1080.3400000000001" font-size="9.2" text-anchor="end" fill="#111" font-family="'Liberation Sans', sans-serif" font-weight="normal"  stroke="#111" stroke-width="0.22">190000</text><line x1="562" y1="1104.33" x2="940" y2="1104.33" stroke="#d9d9d9" stroke-width="1.2" stroke-linecap="butt"/><text x="555" y="1107.53" font-size="9.2" text-anchor="end" fill="#111" font-family="'Liberation Sans', sans-serif" font-weight="normal"  stroke="#111" stroke-width="0.22">180000</text><text x="951.5" y="920.4" font-size="16.6" text-anchor="start" fill="#111" font-family="'Liberation Sans', sans-serif" font-weight="normal"  stroke="#111" stroke-width="0.22">25000</text><text x="951.5" y="958.4" font-size="16.6" text-anchor="start" fill="#111" font-family="'Liberation Sans', sans-serif" font-weight="normal"  stroke="#111" stroke-width="0.22">20000</text><text x="951.5" y="996.5" font-size="16.6" text-anchor="start" fill="#111" font-family="'Liberation Sans', sans-serif" font-weight="normal"  stroke="#111" stroke-width="0.22">15000</text><text x="951.5" y="1034.5" font-size="16.6" text-anchor="start" fill="#111" font-family="'Liberation Sans', sans-serif" font-weight="normal"  stroke="#111" stroke-width="0.22">10000</text><text x="951.5" y="1072.5" font-size="16.6" text-anchor="start" fill="#111" font-family="'Liberation Sans', sans-serif" font-weight="normal"  stroke="#111" stroke-width="0.22">5000</text><text x="951.5" y="1110.6000000000001" font-size="16.6" text-anchor="start" fill="#111" font-family="'Liberation Sans', sans-serif" font-weight="normal"  stroke="#111" stroke-width="0.22">0</text><line x1="561.5" y1="1104.3" x2="561.5" y2="1107.8" stroke="#d9d9d9" stroke-width="1" stroke-linecap="butt"/><text x="565.5" y="1120" font-size="8.8" text-anchor="end" fill="#111" font-family="'Liberation Sans', sans-serif" font-weight="normal" transform="rotate(-45 565.5 1120)"  stroke="#111" stroke-width="0.22">05-28</text><line x1="583.15" y1="1104.3" x2="583.15" y2="1107.8" stroke="#d9d9d9" stroke-width="1" stroke-linecap="butt"/><text x="587.15" y="1120" font-size="8.8" text-anchor="end" fill="#111" font-family="'Liberation Sans', sans-serif" font-weight="normal" transform="rotate(-45 587.15 1120)"  stroke="#111" stroke-width="0.22">06-04</text><line x1="604.8" y1="1104.3" x2="604.8" y2="1107.8" stroke="#d9d9d9" stroke-width="1" stroke-linecap="butt"/><text x="608.8" y="1120" font-size="8.8" text-anchor="end" fill="#111" font-family="'Liberation Sans', sans-serif" font-weight="normal" transform="rotate(-45 608.8 1120)"  stroke="#111" stroke-width="0.22">06-11</text><line x1="626.45" y1="1104.3" x2="626.45" y2="1107.8" stroke="#d9d9d9" stroke-width="1" stroke-linecap="butt"/><text x="630.45" y="1120" font-size="8.8" text-anchor="end" fill="#111" font-family="'Liberation Sans', sans-serif" font-weight="normal" transform="rotate(-45 630.45 1120)"  stroke="#111" stroke-width="0.22">06-18</text><line x1="648.1" y1="1104.3" x2="648.1" y2="1107.8" stroke="#d9d9d9" stroke-width="1" stroke-linecap="butt"/><text x="652.1" y="1120" font-size="8.8" text-anchor="end" fill="#111" font-family="'Liberation Sans', sans-serif" font-weight="normal" transform="rotate(-45 652.1 1120)"  stroke="#111" stroke-width="0.22">06-25</text><line x1="669.75" y1="1104.3" x2="669.75" y2="1107.8" stroke="#d9d9d9" stroke-width="1" stroke-linecap="butt"/><text x="673.75" y="1120" font-size="8.8" text-anchor="end" fill="#111" font-family="'Liberation Sans', sans-serif" font-weight="normal" transform="rotate(-45 673.75 1120)"  stroke="#111" stroke-width="0.22">07-02</text><line x1="691.4" y1="1104.3" x2="691.4" y2="1107.8" stroke="#d9d9d9" stroke-width="1" stroke-linecap="butt"/><text x="695.4" y="1120" font-size="8.8" text-anchor="end" fill="#111" font-family="'Liberation Sans', sans-serif" font-weight="normal" transform="rotate(-45 695.4 1120)"  stroke="#111" stroke-width="0.22">07-09</text><line x1="713.05" y1="1104.3" x2="713.05" y2="1107.8" stroke="#d9d9d9" stroke-width="1" stroke-linecap="butt"/><text x="717.05" y="1120" font-size="8.8" text-anchor="end" fill="#111" font-family="'Liberation Sans', sans-serif" font-weight="normal" transform="rotate(-45 717.05 1120)"  stroke="#111" stroke-width="0.22">07-16</text><line x1="734.7" y1="1104.3" x2="734.7" y2="1107.8" stroke="#d9d9d9" stroke-width="1" stroke-linecap="butt"/><text x="738.7" y="1120" font-size="8.8" text-anchor="end" fill="#111" font-family="'Liberation Sans', sans-serif" font-weight="normal" transform="rotate(-45 738.7 1120)"  stroke="#111" stroke-width="0.22">07-23</text><line x1="756.35" y1="1104.3" x2="756.35" y2="1107.8" stroke="#d9d9d9" stroke-width="1" stroke-linecap="butt"/><text x="760.35" y="1120" font-size="8.8" text-anchor="end" fill="#111" font-family="'Liberation Sans', sans-serif" font-weight="normal" transform="rotate(-45 760.35 1120)"  stroke="#111" stroke-width="0.22">07-30</text><line x1="778.0" y1="1104.3" x2="778.0" y2="1107.8" stroke="#d9d9d9" stroke-width="1" stroke-linecap="butt"/><text x="782.0" y="1120" font-size="8.8" text-anchor="end" fill="#111" font-family="'Liberation Sans', sans-serif" font-weight="normal" transform="rotate(-45 782.0 1120)"  stroke="#111" stroke-width="0.22">08-06</text><line x1="799.65" y1="1104.3" x2="799.65" y2="1107.8" stroke="#d9d9d9" stroke-width="1" stroke-linecap="butt"/><text x="803.65" y="1120" font-size="8.8" text-anchor="end" fill="#111" font-family="'Liberation Sans', sans-serif" font-weight="normal" transform="rotate(-45 803.65 1120)"  stroke="#111" stroke-width="0.22">08-13</text><line x1="821.3" y1="1104.3" x2="821.3" y2="1107.8" stroke="#d9d9d9" stroke-width="1" stroke-linecap="butt"/><text x="825.3" y="1120" font-size="8.8" text-anchor="end" fill="#111" font-family="'Liberation Sans', sans-serif" font-weight="normal" transform="rotate(-45 825.3 1120)"  stroke="#111" stroke-width="0.22">08-20</text><line x1="842.95" y1="1104.3" x2="842.95" y2="1107.8" stroke="#d9d9d9" stroke-width="1" stroke-linecap="butt"/><text x="846.95" y="1120" font-size="8.8" text-anchor="end" fill="#111" font-family="'Liberation Sans', sans-serif" font-weight="normal" transform="rotate(-45 846.95 1120)"  stroke="#111" stroke-width="0.22">08-27</text><line x1="864.5999999999999" y1="1104.3" x2="864.5999999999999" y2="1107.8" stroke="#d9d9d9" stroke-width="1" stroke-linecap="butt"/><text x="868.5999999999999" y="1120" font-size="8.8" text-anchor="end" fill="#111" font-family="'Liberation Sans', sans-serif" font-weight="normal" transform="rotate(-45 868.5999999999999 1120)"  stroke="#111" stroke-width="0.22">09-03</text><line x1="886.25" y1="1104.3" x2="886.25" y2="1107.8" stroke="#d9d9d9" stroke-width="1" stroke-linecap="butt"/><text x="890.25" y="1120" font-size="8.8" text-anchor="end" fill="#111" font-family="'Liberation Sans', sans-serif" font-weight="normal" transform="rotate(-45 890.25 1120)"  stroke="#111" stroke-width="0.22">09-10</text><line x1="907.9" y1="1104.3" x2="907.9" y2="1107.8" stroke="#d9d9d9" stroke-width="1" stroke-linecap="butt"/><text x="911.9" y="1120" font-size="8.8" text-anchor="end" fill="#111" font-family="'Liberation Sans', sans-serif" font-weight="normal" transform="rotate(-45 911.9 1120)"  stroke="#111" stroke-width="0.22">09-17</text><line x1="929.55" y1="1104.3" x2="929.55" y2="1107.8" stroke="#d9d9d9" stroke-width="1" stroke-linecap="butt"/><text x="933.55" y="1120" font-size="8.8" text-anchor="end" fill="#111" font-family="'Liberation Sans', sans-serif" font-weight="normal" transform="rotate(-45 933.55 1120)"  stroke="#111" stroke-width="0.22">09-24</text><polyline points="564.1,951.0 585.6,951.5 590.5,953.9 602.7,955.9 605.6,942.4 612.4,944.9 622.2,947.8 624.6,946.1 628.3,946.6 634.4,952.9 642.9,956.3 646.6,963.9 656.3,971.7 663.7,972.9 669.8,975.4 673.4,972.4 688.0,973.4 691.7,970.0 699.0,970.0 708.8,963.2 711.2,948.5 729.5,949.3 744.1,950.0 753.9,952.2 760.5,952.4 775.0,955.0 779.0,959.8 785.6,961.7 796.1,961.7 800.0,953.8 817.2,953.8 829.0,958.5 840.9,960.0 850.1,969.8 860.6,970.3 871.2,971.7 881.7,976.9 894.9,976.9 908.0,976.1 916.0,977.7 939.7,978.5" fill="none" stroke="#e52222" stroke-width="4.8" stroke-linejoin="round" stroke-linecap="butt"/><polyline points="562.4,932.7 564.9,979.8 656.3,979.8 664.9,972.4 696.6,972.4 699.0,956.3 729.5,956.3 734.4,957.6 819.8,956.6 822.4,965.9 929.1,965.9 934.4,1033.6 939.7,1033.6" fill="none" stroke="#1e5a68" stroke-width="4.8" stroke-linejoin="round" stroke-linecap="butt"/><line x1="697.25" y1="1159.7" x2="735.25" y2="1159.7" stroke="#e52222" stroke-width="4.5" stroke-linecap="round"/><text x="740" y="1163.5" font-size="10" text-anchor="start" fill="#222" font-family="'Liberation Sans', sans-serif" font-weight="normal"  stroke="#222" stroke-width="0.22">仓库</text><line x1="763.25" y1="1159.7" x2="802.25" y2="1159.7" stroke="#1e5a68" stroke-width="4.5" stroke-linecap="round"/><text x="806.5" y="1163.5" font-size="10" text-anchor="start" fill="#222" font-family="'Liberation Sans', sans-serif" font-weight="normal"  stroke="#222" stroke-width="0.22">厂库</text><text x="262.4" y="1230.1" font-size="14.4" text-anchor="middle" fill="#000" font-family="'Liberation Serif', serif" font-weight="bold" letter-spacing="0.3" stroke="#000" stroke-width="0.22">纸浆：基差</text><line x1="53" y1="1262.05" x2="489.5" y2="1262.05" stroke="#d9d9d9" stroke-width="1.2" stroke-linecap="butt"/><text x="45.5" y="1265.05" font-size="9" text-anchor="end" fill="#111" font-family="'Liberation Sans', sans-serif" font-weight="normal"  stroke="#111" stroke-width="0.22">1000</text><line x1="53" y1="1284.07" x2="489.5" y2="1284.07" stroke="#d9d9d9" stroke-width="1.2" stroke-linecap="butt"/><text x="45.5" y="1287.07" font-size="9" text-anchor="end" fill="#111" font-family="'Liberation Sans', sans-serif" font-weight="normal"  stroke="#111" stroke-width="0.22">900</text><line x1="53" y1="1306.09" x2="489.5" y2="1306.09" stroke="#d9d9d9" stroke-width="1.2" stroke-linecap="butt"/><text x="45.5" y="1309.09" font-size="9" text-anchor="end" fill="#111" font-family="'Liberation Sans', sans-serif" font-weight="normal"  stroke="#111" stroke-width="0.22">800</text><line x1="53" y1="1328.11" x2="489.5" y2="1328.11" stroke="#d9d9d9" stroke-width="1.2" stroke-linecap="butt"/><text x="45.5" y="1331.11" font-size="9" text-anchor="end" fill="#111" font-family="'Liberation Sans', sans-serif" font-weight="normal"  stroke="#111" stroke-width="0.22">700</text><line x1="53" y1="1350.1299999999999" x2="489.5" y2="1350.1299999999999" stroke="#d9d9d9" stroke-width="1.2" stroke-linecap="butt"/><text x="45.5" y="1353.1299999999999" font-size="9" text-anchor="end" fill="#111" font-family="'Liberation Sans', sans-serif" font-weight="normal"  stroke="#111" stroke-width="0.22">600</text><line x1="53" y1="1372.1499999999999" x2="489.5" y2="1372.1499999999999" stroke="#d9d9d9" stroke-width="1.2" stroke-linecap="butt"/><text x="45.5" y="1375.1499999999999" font-size="9" text-anchor="end" fill="#111" font-family="'Liberation Sans', sans-serif" font-weight="normal"  stroke="#111" stroke-width="0.22">500</text><line x1="53" y1="1394.17" x2="489.5" y2="1394.17" stroke="#d9d9d9" stroke-width="1.2" stroke-linecap="butt"/><text x="45.5" y="1397.17" font-size="9" text-anchor="end" fill="#111" font-family="'Liberation Sans', sans-serif" font-weight="normal"  stroke="#111" stroke-width="0.22">400</text><line x1="53" y1="1416.19" x2="489.5" y2="1416.19" stroke="#d9d9d9" stroke-width="1.2" stroke-linecap="butt"/><text x="45.5" y="1419.19" font-size="9" text-anchor="end" fill="#111" font-family="'Liberation Sans', sans-serif" font-weight="normal"  stroke="#111" stroke-width="0.22">300</text><line x1="53" y1="1438.21" x2="489.5" y2="1438.21" stroke="#d9d9d9" stroke-width="1.2" stroke-linecap="butt"/><text x="45.5" y="1441.21" font-size="9" text-anchor="end" fill="#111" font-family="'Liberation Sans', sans-serif" font-weight="normal"  stroke="#111" stroke-width="0.22">200</text><line x1="53" y1="1460.23" x2="489.5" y2="1460.23" stroke="#d9d9d9" stroke-width="1.2" stroke-linecap="butt"/><text x="45.5" y="1463.23" font-size="9" text-anchor="end" fill="#111" font-family="'Liberation Sans', sans-serif" font-weight="normal"  stroke="#111" stroke-width="0.22">100</text><line x1="53" y1="1482.25" x2="489.5" y2="1482.25" stroke="#d9d9d9" stroke-width="1.2" stroke-linecap="butt"/><text x="45.5" y="1485.25" font-size="9" text-anchor="end" fill="#111" font-family="'Liberation Sans', sans-serif" font-weight="normal"  stroke="#111" stroke-width="0.22">0</text><line x1="53.0" y1="1482.25" x2="53.0" y2="1486" stroke="#d9d9d9" stroke-width="1" stroke-linecap="butt"/><text x="57.5" y="1498.5" font-size="9.3" text-anchor="end" fill="#111" font-family="'Liberation Sans', sans-serif" font-weight="normal" transform="rotate(-45 57.5 1498.5)"  stroke="#111" stroke-width="0.22">05-28</text><line x1="77.97" y1="1482.25" x2="77.97" y2="1486" stroke="#d9d9d9" stroke-width="1" stroke-linecap="butt"/><text x="82.47" y="1498.5" font-size="9.3" text-anchor="end" fill="#111" font-family="'Liberation Sans', sans-serif" font-weight="normal" transform="rotate(-45 82.47 1498.5)"  stroke="#111" stroke-width="0.22">06-04</text><line x1="102.94" y1="1482.25" x2="102.94" y2="1486" stroke="#d9d9d9" stroke-width="1" stroke-linecap="butt"/><text x="107.44" y="1498.5" font-size="9.3" text-anchor="end" fill="#111" font-family="'Liberation Sans', sans-serif" font-weight="normal" transform="rotate(-45 107.44 1498.5)"  stroke="#111" stroke-width="0.22">06-11</text><line x1="127.91" y1="1482.25" x2="127.91" y2="1486" stroke="#d9d9d9" stroke-width="1" stroke-linecap="butt"/><text x="132.41" y="1498.5" font-size="9.3" text-anchor="end" fill="#111" font-family="'Liberation Sans', sans-serif" font-weight="normal" transform="rotate(-45 132.41 1498.5)"  stroke="#111" stroke-width="0.22">06-18</text><line x1="152.88" y1="1482.25" x2="152.88" y2="1486" stroke="#d9d9d9" stroke-width="1" stroke-linecap="butt"/><text x="157.38" y="1498.5" font-size="9.3" text-anchor="end" fill="#111" font-family="'Liberation Sans', sans-serif" font-weight="normal" transform="rotate(-45 157.38 1498.5)"  stroke="#111" stroke-width="0.22">06-25</text><line x1="177.85" y1="1482.25" x2="177.85" y2="1486" stroke="#d9d9d9" stroke-width="1" stroke-linecap="butt"/><text x="182.35" y="1498.5" font-size="9.3" text-anchor="end" fill="#111" font-family="'Liberation Sans', sans-serif" font-weight="normal" transform="rotate(-45 182.35 1498.5)"  stroke="#111" stroke-width="0.22">07-02</text><line x1="202.82" y1="1482.25" x2="202.82" y2="1486" stroke="#d9d9d9" stroke-width="1" stroke-linecap="butt"/><text x="207.32" y="1498.5" font-size="9.3" text-anchor="end" fill="#111" font-family="'Liberation Sans', sans-serif" font-weight="normal" transform="rotate(-45 207.32 1498.5)"  stroke="#111" stroke-width="0.22">07-09</text><line x1="227.79" y1="1482.25" x2="227.79" y2="1486" stroke="#d9d9d9" stroke-width="1" stroke-linecap="butt"/><text x="232.29" y="1498.5" font-size="9.3" text-anchor="end" fill="#111" font-family="'Liberation Sans', sans-serif" font-weight="normal" transform="rotate(-45 232.29 1498.5)"  stroke="#111" stroke-width="0.22">07-16</text><line x1="252.76" y1="1482.25" x2="252.76" y2="1486" stroke="#d9d9d9" stroke-width="1" stroke-linecap="butt"/><text x="257.26" y="1498.5" font-size="9.3" text-anchor="end" fill="#111" font-family="'Liberation Sans', sans-serif" font-weight="normal" transform="rotate(-45 257.26 1498.5)"  stroke="#111" stroke-width="0.22">07-23</text><line x1="277.73" y1="1482.25" x2="277.73" y2="1486" stroke="#d9d9d9" stroke-width="1" stroke-linecap="butt"/><text x="282.23" y="1498.5" font-size="9.3" text-anchor="end" fill="#111" font-family="'Liberation Sans', sans-serif" font-weight="normal" transform="rotate(-45 282.23 1498.5)"  stroke="#111" stroke-width="0.22">07-30</text><line x1="302.7" y1="1482.25" x2="302.7" y2="1486" stroke="#d9d9d9" stroke-width="1" stroke-linecap="butt"/><text x="307.2" y="1498.5" font-size="9.3" text-anchor="end" fill="#111" font-family="'Liberation Sans', sans-serif" font-weight="normal" transform="rotate(-45 307.2 1498.5)"  stroke="#111" stroke-width="0.22">08-06</text><line x1="327.66999999999996" y1="1482.25" x2="327.66999999999996" y2="1486" stroke="#d9d9d9" stroke-width="1" stroke-linecap="butt"/><text x="332.16999999999996" y="1498.5" font-size="9.3" text-anchor="end" fill="#111" font-family="'Liberation Sans', sans-serif" font-weight="normal" transform="rotate(-45 332.16999999999996 1498.5)"  stroke="#111" stroke-width="0.22">08-13</text><line x1="352.64" y1="1482.25" x2="352.64" y2="1486" stroke="#d9d9d9" stroke-width="1" stroke-linecap="butt"/><text x="357.14" y="1498.5" font-size="9.3" text-anchor="end" fill="#111" font-family="'Liberation Sans', sans-serif" font-weight="normal" transform="rotate(-45 357.14 1498.5)"  stroke="#111" stroke-width="0.22">08-20</text><line x1="377.61" y1="1482.25" x2="377.61" y2="1486" stroke="#d9d9d9" stroke-width="1" stroke-linecap="butt"/><text x="382.11" y="1498.5" font-size="9.3" text-anchor="end" fill="#111" font-family="'Liberation Sans', sans-serif" font-weight="normal" transform="rotate(-45 382.11 1498.5)"  stroke="#111" stroke-width="0.22">08-27</text><line x1="402.58" y1="1482.25" x2="402.58" y2="1486" stroke="#d9d9d9" stroke-width="1" stroke-linecap="butt"/><text x="407.08" y="1498.5" font-size="9.3" text-anchor="end" fill="#111" font-family="'Liberation Sans', sans-serif" font-weight="normal" transform="rotate(-45 407.08 1498.5)"  stroke="#111" stroke-width="0.22">09-03</text><line x1="427.54999999999995" y1="1482.25" x2="427.54999999999995" y2="1486" stroke="#d9d9d9" stroke-width="1" stroke-linecap="butt"/><text x="432.04999999999995" y="1498.5" font-size="9.3" text-anchor="end" fill="#111" font-family="'Liberation Sans', sans-serif" font-weight="normal" transform="rotate(-45 432.04999999999995 1498.5)"  stroke="#111" stroke-width="0.22">09-10</text><line x1="452.52" y1="1482.25" x2="452.52" y2="1486" stroke="#d9d9d9" stroke-width="1" stroke-linecap="butt"/><text x="457.02" y="1498.5" font-size="9.3" text-anchor="end" fill="#111" font-family="'Liberation Sans', sans-serif" font-weight="normal" transform="rotate(-45 457.02 1498.5)"  stroke="#111" stroke-width="0.22">09-17</text><line x1="477.49" y1="1482.25" x2="477.49" y2="1486" stroke="#d9d9d9" stroke-width="1" stroke-linecap="butt"/><text x="481.99" y="1498.5" font-size="9.3" text-anchor="end" fill="#111" font-family="'Liberation Sans', sans-serif" font-weight="normal" transform="rotate(-45 481.99 1498.5)"  stroke="#111" stroke-width="0.22">09-24</text><polyline points="54.0,1299.8 57.9,1326.6 62.0,1309.5 75.4,1284.4 79.8,1294.9 83.2,1290.0 86.4,1290.5 97.4,1315.6 103.5,1310.7 108.3,1287.6 113.2,1292.4 123.0,1299.0 125.4,1298.5 132.7,1307.1 136.4,1276.6 147.4,1312.0 151.0,1291.2 154.7,1287.6 158.3,1287.6 162.0,1294.1 173.0,1298.5 175.9,1289.3 182.7,1304.6 186.4,1298.5 197.4,1299.8 204.7,1305.9 210.8,1330.2 213.2,1331.5 221.8,1333.2 226.1,1337.6 229.6,1332.2 237.6,1343.7 247.4,1352.7 251.3,1361.8 255.1,1364.3 261.9,1394.7 272.8,1359.2 276.1,1362.3 279.2,1351.6 282.5,1347.8 286.8,1335.9 300.7,1330.1 308.3,1335.9 312.2,1330.1 322.3,1349.1 326.1,1352.9 329.9,1361.8 333.7,1364.8 347.7,1350.3 354.0,1323.7 357.8,1335.1 361.6,1329.3 373.0,1335.9 375.6,1321.7 379.9,1318.6 383.2,1328.8 387.0,1331.8 398.4,1336.9 401.7,1332.6 406.0,1334.6 409.3,1334.6 412.4,1337.2 423.8,1333.4 426.8,1321.2 430.1,1337.7 433.2,1342.7 437.2,1336.4 447.9,1351.6 451.7,1354.7 458.5,1341.5 463.1,1342.7 473.2,1340.2 477.0,1340.2 480.8,1349.1 483.9,1352.4 488.0,1341.5" fill="none" stroke="#e52222" stroke-width="4.5" stroke-linejoin="round" stroke-linecap="butt"/><text x="761" y="1230.1" font-size="14.4" text-anchor="middle" fill="#000" font-family="'Liberation Serif', serif" font-weight="bold" letter-spacing="0.3" stroke="#000" stroke-width="0.22">纸浆：生产利润</text><line x1="541" y1="1259.25" x2="973" y2="1259.25" stroke="#d9d9d9" stroke-width="1.2" stroke-linecap="butt"/><text x="534.5" y="1262.25" font-size="8.5" text-anchor="end" fill="#111" font-family="'Liberation Sans', sans-serif" font-weight="normal"  stroke="#111" stroke-width="0.22">600</text><line x1="541" y1="1277.995" x2="973" y2="1277.995" stroke="#d9d9d9" stroke-width="1.2" stroke-linecap="butt"/><text x="534.5" y="1280.995" font-size="8.5" text-anchor="end" fill="#111" font-family="'Liberation Sans', sans-serif" font-weight="normal"  stroke="#111" stroke-width="0.22">500</text><line x1="541" y1="1296.74" x2="973" y2="1296.74" stroke="#d9d9d9" stroke-width="1.2" stroke-linecap="butt"/><text x="534.5" y="1299.74" font-size="8.5" text-anchor="end" fill="#111" font-family="'Liberation Sans', sans-serif" font-weight="normal"  stroke="#111" stroke-width="0.22">400</text><line x1="541" y1="1315.485" x2="973" y2="1315.485" stroke="#d9d9d9" stroke-width="1.2" stroke-linecap="butt"/><text x="534.5" y="1318.485" font-size="8.5" text-anchor="end" fill="#111" font-family="'Liberation Sans', sans-serif" font-weight="normal"  stroke="#111" stroke-width="0.22">300</text><line x1="541" y1="1334.23" x2="973" y2="1334.23" stroke="#d9d9d9" stroke-width="1.2" stroke-linecap="butt"/><text x="534.5" y="1337.23" font-size="8.5" text-anchor="end" fill="#111" font-family="'Liberation Sans', sans-serif" font-weight="normal"  stroke="#111" stroke-width="0.22">200</text><line x1="541" y1="1352.975" x2="973" y2="1352.975" stroke="#d9d9d9" stroke-width="1.2" stroke-linecap="butt"/><text x="534.5" y="1355.975" font-size="8.5" text-anchor="end" fill="#111" font-family="'Liberation Sans', sans-serif" font-weight="normal"  stroke="#111" stroke-width="0.22">100</text><line x1="541" y1="1371.72" x2="973" y2="1371.72" stroke="#bfbfbf" stroke-width="1.2" stroke-linecap="butt"/><text x="534.5" y="1374.72" font-size="8.5" text-anchor="end" fill="#111" font-family="'Liberation Sans', sans-serif" font-weight="normal"  stroke="#111" stroke-width="0.22">0</text><line x1="541" y1="1390.465" x2="973" y2="1390.465" stroke="#d9d9d9" stroke-width="1.2" stroke-linecap="butt"/><text x="534.5" y="1393.465" font-size="8.5" text-anchor="end" fill="#111" font-family="'Liberation Sans', sans-serif" font-weight="normal"  stroke="#111" stroke-width="0.22">-100</text><line x1="541" y1="1409.21" x2="973" y2="1409.21" stroke="#d9d9d9" stroke-width="1.2" stroke-linecap="butt"/><text x="534.5" y="1412.21" font-size="8.5" text-anchor="end" fill="#111" font-family="'Liberation Sans', sans-serif" font-weight="normal"  stroke="#111" stroke-width="0.22">-200</text><line x1="541" y1="1427.955" x2="973" y2="1427.955" stroke="#d9d9d9" stroke-width="1.2" stroke-linecap="butt"/><text x="534.5" y="1430.955" font-size="8.5" text-anchor="end" fill="#111" font-family="'Liberation Sans', sans-serif" font-weight="normal"  stroke="#111" stroke-width="0.22">-300</text><line x1="541" y1="1446.7" x2="973" y2="1446.7" stroke="#d9d9d9" stroke-width="1.2" stroke-linecap="butt"/><text x="534.5" y="1449.7" font-size="8.5" text-anchor="end" fill="#111" font-family="'Liberation Sans', sans-serif" font-weight="normal"  stroke="#111" stroke-width="0.22">-400</text><line x1="541.5" y1="1259.25" x2="541.5" y2="1446.7" stroke="#bfbfbf" stroke-width="1.2" stroke-linecap="butt"/><text x="546.0999999999999" y="1477.5" font-size="9.3" text-anchor="start" fill="#111" font-family="'Liberation Sans', sans-serif" font-weight="normal" transform="rotate(-90 546.0999999999999 1477.5)"  stroke="#111" stroke-width="0.22">03-21</text><text x="562.5899999999999" y="1477.5" font-size="9.3" text-anchor="start" fill="#111" font-family="'Liberation Sans', sans-serif" font-weight="normal" transform="rotate(-90 562.5899999999999 1477.5)"  stroke="#111" stroke-width="0.22">03-28</text><text x="579.0799999999999" y="1477.5" font-size="9.3" text-anchor="start" fill="#111" font-family="'Liberation Sans', sans-serif" font-weight="normal" transform="rotate(-90 579.0799999999999 1477.5)"  stroke="#111" stroke-width="0.22">04-04</text><text x="595.5699999999999" y="1477.5" font-size="9.3" text-anchor="start" fill="#111" font-family="'Liberation Sans', sans-serif" font-weight="normal" transform="rotate(-90 595.5699999999999 1477.5)"  stroke="#111" stroke-width="0.22">04-11</text><text x="612.06" y="1477.5" font-size="9.3" text-anchor="start" fill="#111" font-family="'Liberation Sans', sans-serif" font-weight="normal" transform="rotate(-90 612.06 1477.5)"  stroke="#111" stroke-width="0.22">04-18</text><text x="628.55" y="1477.5" font-size="9.3" text-anchor="start" fill="#111" font-family="'Liberation Sans', sans-serif" font-weight="normal" transform="rotate(-90 628.55 1477.5)"  stroke="#111" stroke-width="0.22">04-25</text><text x="645.04" y="1477.5" font-size="9.3" text-anchor="start" fill="#111" font-family="'Liberation Sans', sans-serif" font-weight="normal" transform="rotate(-90 645.04 1477.5)"  stroke="#111" stroke-width="0.22">05-02</text><text x="661.5299999999999" y="1477.5" font-size="9.3" text-anchor="start" fill="#111" font-family="'Liberation Sans', sans-serif" font-weight="normal" transform="rotate(-90 661.5299999999999 1477.5)"  stroke="#111" stroke-width="0.22">05-09</text><text x="678.0199999999999" y="1477.5" font-size="9.3" text-anchor="start" fill="#111" font-family="'Liberation Sans', sans-serif" font-weight="normal" transform="rotate(-90 678.0199999999999 1477.5)"  stroke="#111" stroke-width="0.22">05-16</text><text x="694.5099999999999" y="1477.5" font-size="9.3" text-anchor="start" fill="#111" font-family="'Liberation Sans', sans-serif" font-weight="normal" transform="rotate(-90 694.5099999999999 1477.5)"  stroke="#111" stroke-width="0.22">05-23</text><text x="710.9999999999999" y="1477.5" font-size="9.3" text-anchor="start" fill="#111" font-family="'Liberation Sans', sans-serif" font-weight="normal" transform="rotate(-90 710.9999999999999 1477.5)"  stroke="#111" stroke-width="0.22">05-30</text><text x="727.4899999999999" y="1477.5" font-size="9.3" text-anchor="start" fill="#111" font-family="'Liberation Sans', sans-serif" font-weight="normal" transform="rotate(-90 727.4899999999999 1477.5)"  stroke="#111" stroke-width="0.22">06-06</text><text x="743.9799999999999" y="1477.5" font-size="9.3" text-anchor="start" fill="#111" font-family="'Liberation Sans', sans-serif" font-weight="normal" transform="rotate(-90 743.9799999999999 1477.5)"  stroke="#111" stroke-width="0.22">06-13</text><text x="760.4699999999999" y="1477.5" font-size="9.3" text-anchor="start" fill="#111" font-family="'Liberation Sans', sans-serif" font-weight="normal" transform="rotate(-90 760.4699999999999 1477.5)"  stroke="#111" stroke-width="0.22">06-20</text><text x="776.9599999999999" y="1477.5" font-size="9.3" text-anchor="start" fill="#111" font-family="'Liberation Sans', sans-serif" font-weight="normal" transform="rotate(-90 776.9599999999999 1477.5)"  stroke="#111" stroke-width="0.22">06-27</text><text x="793.4499999999998" y="1477.5" font-size="9.3" text-anchor="start" fill="#111" font-family="'Liberation Sans', sans-serif" font-weight="normal" transform="rotate(-90 793.4499999999998 1477.5)"  stroke="#111" stroke-width="0.22">07-04</text><text x="809.9399999999998" y="1477.5" font-size="9.3" text-anchor="start" fill="#111" font-family="'Liberation Sans', sans-serif" font-weight="normal" transform="rotate(-90 809.9399999999998 1477.5)"  stroke="#111" stroke-width="0.22">07-11</text><text x="826.4299999999998" y="1477.5" font-size="9.3" text-anchor="start" fill="#111" font-family="'Liberation Sans', sans-serif" font-weight="normal" transform="rotate(-90 826.4299999999998 1477.5)"  stroke="#111" stroke-width="0.22">07-18</text><text x="842.9199999999998" y="1477.5" font-size="9.3" text-anchor="start" fill="#111" font-family="'Liberation Sans', sans-serif" font-weight="normal" transform="rotate(-90 842.9199999999998 1477.5)"  stroke="#111" stroke-width="0.22">07-25</text><text x="859.4099999999999" y="1477.5" font-size="9.3" text-anchor="start" fill="#111" font-family="'Liberation Sans', sans-serif" font-weight="normal" transform="rotate(-90 859.4099999999999 1477.5)"  stroke="#111" stroke-width="0.22">08-01</text><text x="875.8999999999999" y="1477.5" font-size="9.3" text-anchor="start" fill="#111" font-family="'Liberation Sans', sans-serif" font-weight="normal" transform="rotate(-90 875.8999999999999 1477.5)"  stroke="#111" stroke-width="0.22">08-08</text><text x="892.3899999999999" y="1477.5" font-size="9.3" text-anchor="start" fill="#111" font-family="'Liberation Sans', sans-serif" font-weight="normal" transform="rotate(-90 892.3899999999999 1477.5)"  stroke="#111" stroke-width="0.22">08-15</text><text x="908.8799999999999" y="1477.5" font-size="9.3" text-anchor="start" fill="#111" font-family="'Liberation Sans', sans-serif" font-weight="normal" transform="rotate(-90 908.8799999999999 1477.5)"  stroke="#111" stroke-width="0.22">08-22</text><text x="925.3699999999999" y="1477.5" font-size="9.3" text-anchor="start" fill="#111" font-family="'Liberation Sans', sans-serif" font-weight="normal" transform="rotate(-90 925.3699999999999 1477.5)"  stroke="#111" stroke-width="0.22">08-29</text><text x="941.8599999999999" y="1477.5" font-size="9.3" text-anchor="start" fill="#111" font-family="'Liberation Sans', sans-serif" font-weight="normal" transform="rotate(-90 941.8599999999999 1477.5)"  stroke="#111" stroke-width="0.22">09-05</text><text x="958.3499999999999" y="1477.5" font-size="9.3" text-anchor="start" fill="#111" font-family="'Liberation Sans', sans-serif" font-weight="normal" transform="rotate(-90 958.3499999999999 1477.5)"  stroke="#111" stroke-width="0.22">09-12</text><text x="974.8399999999999" y="1477.5" font-size="9.3" text-anchor="start" fill="#111" font-family="'Liberation Sans', sans-serif" font-weight="normal" transform="rotate(-90 974.8399999999999 1477.5)"  stroke="#111" stroke-width="0.22">09-19</text><clipPath id="c4"><rect x="530" y="1259.1" width="460" height="200"/></clipPath><polyline points="543.0,1272.5 557.5,1272.8 560.0,1271.5 600.0,1271.3 700.0,1270.8 790.4,1271.2 805.7,1259.0 956.6,1259.0" fill="none" stroke="#e52222" stroke-width="3" stroke-linejoin="round" stroke-linecap="butt" clip-path="url(#c4)"/><polyline points="543.0,1428.7 558.0,1428.5 561.0,1427.5 700.0,1427.3 956.6,1427.3" fill="none" stroke="#1d5c52" stroke-width="3" stroke-linejoin="round" stroke-linecap="butt"/><line x1="640.9" y1="1501.3" x2="680.3" y2="1501.3" stroke="#e52222" stroke-width="3" stroke-linecap="round"/><text x="684" y="1505" font-size="10" text-anchor="start" fill="#222" font-family="'Liberation Sans', sans-serif" font-weight="normal"  stroke="#222" stroke-width="0.22">阔叶浆</text><line x1="717.5" y1="1501.3" x2="756.5" y2="1501.3" stroke="#1d5c52" stroke-width="3" stroke-linecap="round"/><text x="760" y="1505" font-size="10" text-anchor="start" fill="#222" font-family="'Liberation Sans', sans-serif" font-weight="normal"  stroke="#222" stroke-width="0.22">化机浆</text></svg>
</body></html>
